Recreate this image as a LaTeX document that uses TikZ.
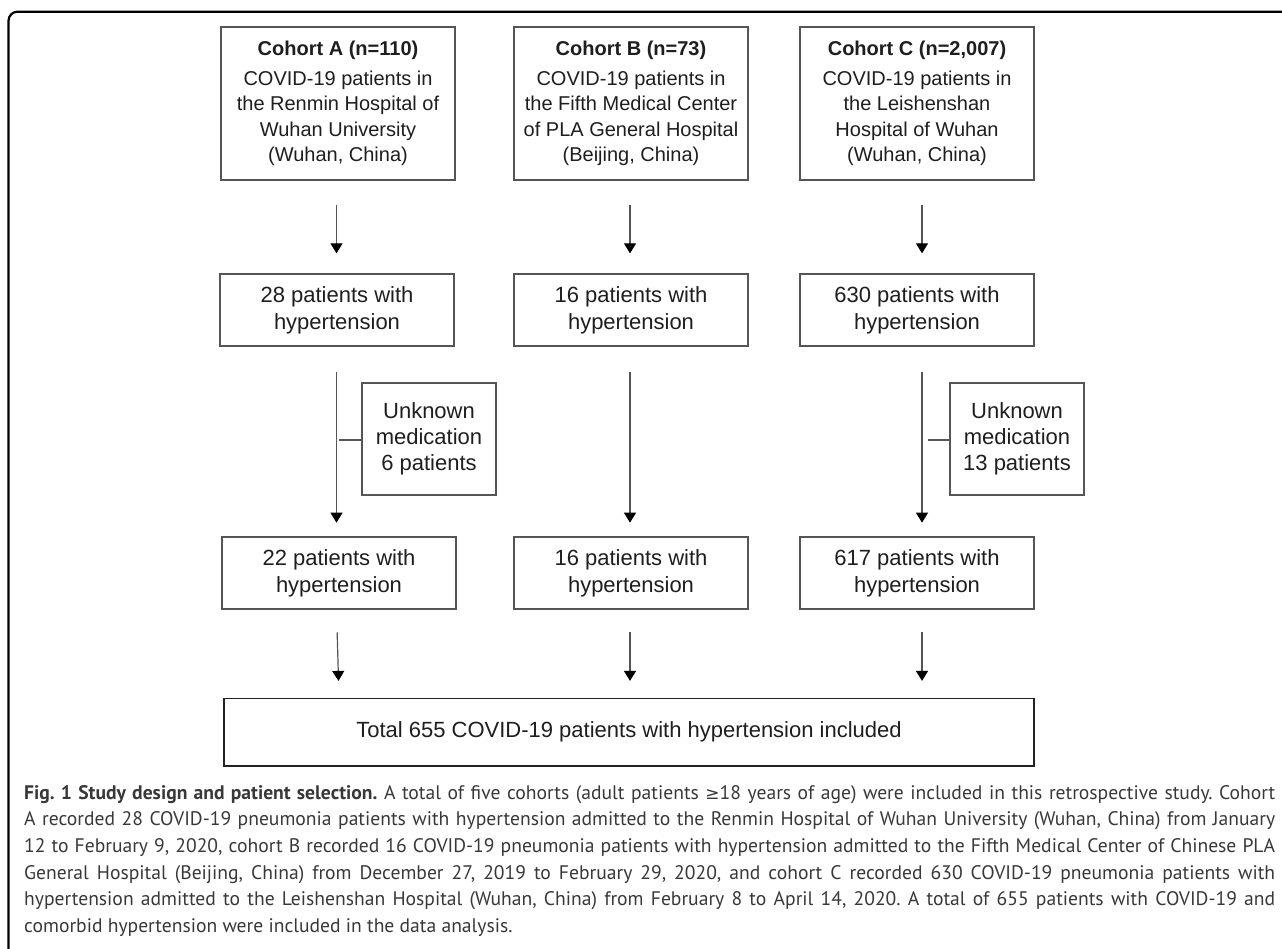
\documentclass[tikz,border=0pt]{standalone}
\usepackage{fontspec}
\setmainfont{Liberation Sans}
\newfontfamily\capfont{PT Sans}
\newfontfamily\symf{DejaVu Sans}
\usetikzlibrary{arrows.meta}
\definecolor{boxgray}{HTML}{555555}
\definecolor{totgray}{HTML}{222222}
\definecolor{linegray}{HTML}{555555}
\definecolor{txt}{HTML}{1E1E1E}
\definecolor{captxt}{HTML}{383838}
\newcommand\capsetup{\capfont\fontsize{19.6}{26.6}\selectfont\frenchspacing\hyphenpenalty=10000\relax\exhyphenpenalty=10000\relax\tolerance=10000\relax\emergencystretch=50pt\relax}
\tikzset{
  topbox/.style={draw=boxgray, line width=1.3pt, minimum width=234pt, minimum height=153pt, inner sep=0pt, align=center, text=txt, font=\fontsize{20}{25.5}\selectfont},
  midbox/.style={draw=boxgray, line width=1.3pt, minimum width=234pt, minimum height=72pt, inner sep=0pt, align=center, text=txt, font=\fontsize{22}{26.7}\selectfont},
  sidebox/.style={draw=boxgray, line width=1.3pt, minimum width=134pt, minimum height=112pt, inner sep=0pt, align=center, text=txt, font=\fontsize{22}{26}\selectfont},
  totbox/.style={draw=totgray, line width=1.5pt, minimum width=810pt, minimum height=67.5pt, inner sep=0pt, align=center, text=txt, font=\fontsize{22}{26.7}\selectfont},
  arr/.style={draw=linegray, line width=1.2pt, -{Triangle[width=12pt,length=10pt,color=black]}},
  conn/.style={draw=linegray, line width=1.2pt},
  frame/.style={draw=black, line width=2.2pt, rounded corners=9pt},
  captext/.style={anchor=north west, inner sep=0pt, text width=1251pt, align=justify, text=captxt, font=\capsetup},
}
\begin{document}
\begin{tikzpicture}[x=1pt,y=-1pt]
\useasboundingbox (0,0) rectangle (1282,949);
\draw[frame] (8.5,960) -- (8.5,11.7) -- (1290,11.7);

% row 1
\node[topbox] (a1) at (338,103.5) {\textbf{Cohort A (n=110)}\\[4pt]COVID-19 patients in\\the Renmin Hospital of\\Wuhan University\\(Wuhan, China)};
\node[topbox] (b1) at (631,103.5) {\textbf{Cohort B (n=73)}\\[4pt]COVID-19 patients in\\the Fifth Medical Center\\of PLA General Hospital\\(Beijing, China)};
\node[topbox] (c1) at (917,103.5) {\textbf{Cohort C (n=2,007)}\\[4pt]COVID-19 patients in\\the Leishenshan\\Hospital of Wuhan\\(Wuhan, China)};

% row 2
\node[midbox] (a2) at (337,310) {28 patients with\\hypertension};
\node[midbox] (b2) at (631,310) {16 patients with\\hypertension};
\node[midbox] (c2) at (917,310) {630 patients with\\hypertension};

% side boxes
\node[sidebox] (sa) at (429,439) {Unknown\\medication\\6 patients};
\node[sidebox] (sc) at (1017,439) {Unknown\\medication\\13 patients};

% row 3
\node[midbox] (a3) at (339,573) {22 patients with\\hypertension};
\node[midbox] (b3) at (631,573) {16 patients with\\hypertension};
\node[midbox] (c3) at (917,573) {617 patients with\\hypertension};

% total
\node[totbox] (tot) at (629,732) {Total 655 COVID-19 patients with hypertension included};

% arrows row1 -> row2
\draw[arr, shorten <=24pt, shorten >=20pt] ([xshift=-1.5pt]a1.south) -- ([xshift=-0.5pt]a2.north);
\draw[arr, shorten <=24pt, shorten >=20pt] ([xshift=-1pt]b1.south) -- ([xshift=-1pt]b2.north);
\draw[arr, shorten <=24pt, shorten >=20pt] ([xshift=5pt]c1.south) -- ([xshift=5pt]c2.north);

% arrows row2 -> row3
\draw[arr, shorten <=25pt, shorten >=13.7pt] ([xshift=-0.5pt]a2.south) -- ([xshift=-2.5pt]a3.north);
\draw[arr, shorten <=25pt, shorten >=13.7pt] ([xshift=-1pt]b2.south) -- ([xshift=-1pt]b3.north);
\draw[arr, shorten <=25pt, shorten >=13.7pt] ([xshift=5pt]c2.south) -- ([xshift=5pt]c3.north);

% side connectors
\coordinate (ja) at (339,440);
\coordinate (jc) at (927.5,440);
\draw[conn] (sa.west |- ja) -- (ja);
\draw[conn] (sc.west |- jc) -- (jc);

% arrows row3 -> total
\draw[arr, shorten <=22.7pt, shorten >=16.6pt] ([xshift=-2.5pt]a3.south) -- (a3.south |- tot.north);
\draw[arr, shorten <=22.7pt, shorten >=16.6pt] ([xshift=-1pt]b3.south) -- ([xshift=-1pt]b3.south |- tot.north);
\draw[arr, shorten <=22.7pt, shorten >=16.6pt] ([xshift=5pt]c3.south) -- ([xshift=5pt]c3.south |- tot.north);

% caption
\node[captext] (cap) at (24,785)
{\textbf{Fig. 1 Study design and patient selection.} A total of five cohorts (adult patients {\symf\fontsize{17}{26.6}\selectfont ≥}18 years of age) were included in this retrospective study. Cohort\linebreak
A recorded 28 COVID-19 pneumonia patients with hypertension admitted to the Renmin Hospital of Wuhan University (Wuhan, China) from January\linebreak
12 to February 9, 2020, cohort B recorded 16 COVID-19 pneumonia patients with hypertension admitted to the Fifth Medical Center of Chinese PLA\linebreak
General Hospital (Beijing, China) from December 27, 2019 to February 29, 2020, and cohort C recorded 630 COVID-19 pneumonia patients with\linebreak
hypertension admitted to the Leishenshan Hospital (Wuhan, China) from February 8 to April 14, 2020. A total of 655 patients with COVID-19 and\linebreak
comorbid hypertension were included in the data analysis.};
\end{tikzpicture}
\end{document}
